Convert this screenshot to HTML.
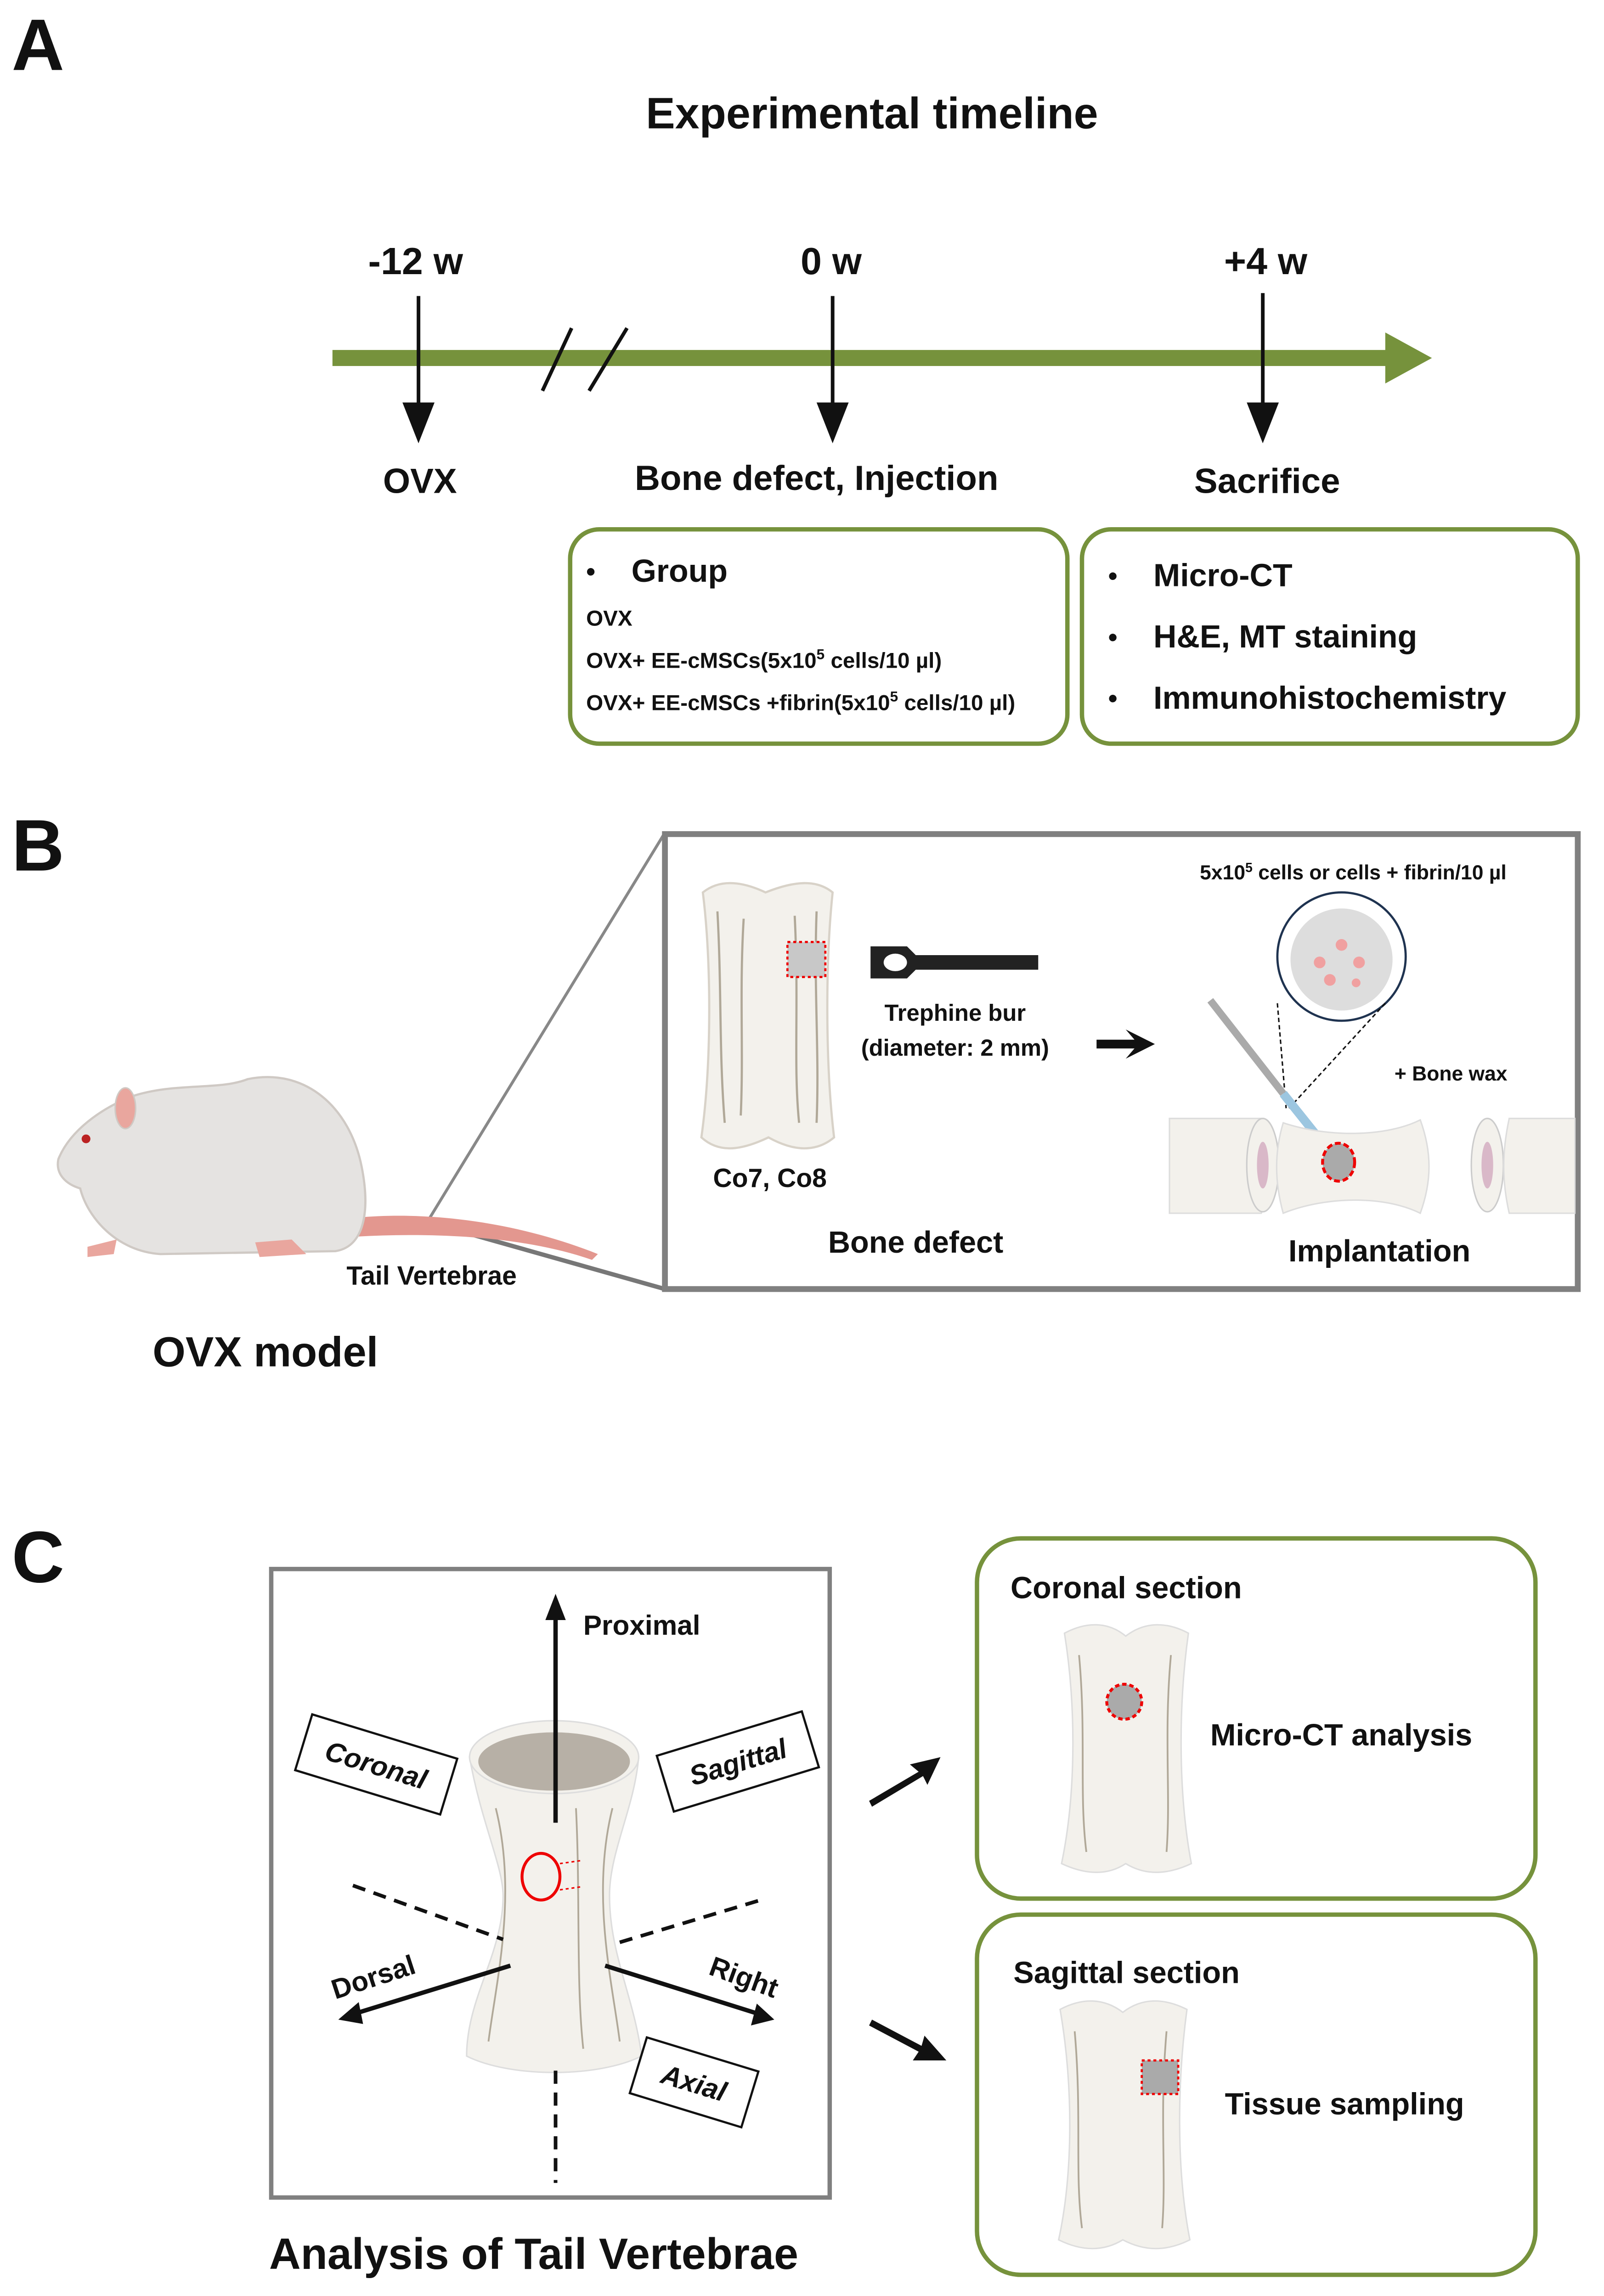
<!DOCTYPE html>
<html><head><meta charset="utf-8"><style>
html,body{margin:0;padding:0;background:#fff;width:3492px;height:5011px;overflow:hidden}
svg{display:block}
text{font-family:"Liberation Sans",Arial,sans-serif;font-weight:bold;fill:#111}
</style></head><body>
<svg width="3492" height="5011" viewBox="0 0 1100 1578" preserveAspectRatio="none" xmlns="http://www.w3.org/2000/svg">
<!-- A -->
<text x="8" y="48" font-size="50">A</text>
<text x="598" y="88" font-size="30" text-anchor="middle">Experimental timeline</text>
<rect x="228" y="240" width="725" height="11" fill="#76923c"/>
<polygon points="950,228 982,245.5 950,263" fill="#76923c"/>
<line x1="392" y1="225" x2="372" y2="268" stroke="#111" stroke-width="2.5"/>
<line x1="430" y1="225" x2="404" y2="268" stroke="#111" stroke-width="2.5"/>
<text x="285" y="188" font-size="26" text-anchor="middle">-12 w</text>
<text x="570" y="188" font-size="26" text-anchor="middle">0 w</text>
<text x="868" y="188" font-size="26" text-anchor="middle">+4 w</text>
<g fill="#111" stroke="#111" stroke-width="2.5">
<line x1="287" y1="203" x2="287" y2="278"/><polygon points="276,276 298,276 287,304" stroke="none"/>
<line x1="571" y1="203" x2="571" y2="278"/><polygon points="560,276 582,276 571,304" stroke="none"/>
<line x1="866" y1="201" x2="866" y2="278"/><polygon points="855,276 877,276 866,304" stroke="none"/>
</g>
<text x="288" y="338" font-size="24" text-anchor="middle">OVX</text>
<text x="560" y="336" font-size="24" text-anchor="middle">Bone defect, Injection</text>
<text x="869" y="338" font-size="24" text-anchor="middle">Sacrifice</text>
<rect x="391" y="363" width="341" height="147" rx="20" fill="none" stroke="#76923c" stroke-width="3"/>
<text x="402" y="398" font-size="18">•</text>
<text x="433" y="399" font-size="22">Group</text>
<text x="402" y="429" font-size="15">OVX</text>
<text x="402" y="458" font-size="15">OVX+ EE-cMSCs(5x10<tspan dy="-6" font-size="10">5</tspan><tspan dy="6"> cells/10 µl)</tspan></text>
<text x="402" y="487" font-size="15">OVX+ EE-cMSCs +fibrin(5x10<tspan dy="-6" font-size="10">5</tspan><tspan dy="6"> cells/10 µl)</tspan></text>
<rect x="742" y="363" width="340" height="147" rx="20" fill="none" stroke="#76923c" stroke-width="3"/>
<text x="760" y="401" font-size="18">•</text><text x="791" y="402" font-size="22">Micro-CT</text>
<text x="760" y="443" font-size="18">•</text><text x="791" y="444" font-size="22">H&amp;E, MT staining</text>
<text x="760" y="485" font-size="18">•</text><text x="791" y="486" font-size="22">Immunohistochemistry</text>

<!-- B -->
<text x="8" y="597" font-size="50">B</text>
<line x1="293" y1="838" x2="456" y2="571" stroke="#888" stroke-width="2"/>
<line x1="293" y1="838" x2="456" y2="884" stroke="#777" stroke-width="3"/>
<rect x="456" y="572" width="626" height="312" fill="none" stroke="#808080" stroke-width="4"/>
<path d="M245,835 C300,830 360,840 410,860 L406,864 C360,848 300,845 245,848 z" fill="#e3978f"/>
<path d="M40,795 C48,775 70,760 90,752 C120,742 150,748 170,740 C210,732 240,760 248,800 C254,830 250,855 230,858 L110,860 C80,858 60,835 55,815 C45,812 38,805 40,795 z" fill="#e5e3e1" stroke="#cfc9c4" stroke-width="1.5"/>
<ellipse cx="86" cy="760" rx="7" ry="14" fill="#e9a69e" stroke="#cfc9c4"/>
<circle cx="59" cy="781" r="3" fill="#b22"/>
<path d="M60,855 L80,850 L78,860 L60,862 z M175,852 L200,850 L210,860 L178,862 z" fill="#e9a69e"/>
<text x="296" y="881" font-size="18" text-anchor="middle">Tail Vertebrae</text>
<text x="182" y="937" font-size="29" text-anchor="middle">OVX model</text>
<path d="M482,612 C492,604 506,603 525,612 C545,604 560,603 571,612 C566,660 566,730 572,780 C560,790 545,790 527,780 C506,790 492,790 481,780 C488,730 488,660 482,612 z" fill="#f3f1ec" stroke="#d8d2c8" stroke-width="1.5"/>
<g stroke="#b0a898" stroke-width="1.5" fill="none">
<path d="M492,625 C495,680 493,720 497,770"/><path d="M510,630 C507,680 510,720 508,765"/><path d="M545,628 C548,690 544,730 548,770"/><path d="M560,625 C558,680 562,720 560,770"/>
</g>
<rect x="540" y="646" width="26" height="24" fill="#c8c8c8" stroke="#e00" stroke-width="1.5" stroke-dasharray="2,2"/>
<path d="M597,649 L622,649 L628,655 L712,655 L712,665 L628,665 L622,671 L597,671 z" fill="#222"/>
<ellipse cx="614" cy="660" rx="8" ry="6" fill="#fff"/>
<text x="655" y="700" font-size="16" text-anchor="middle">Trephine bur</text>
<text x="655" y="724" font-size="16" text-anchor="middle">(diameter: 2 mm)</text>
<path d="M752,713 L778,713 L772,706 L792,716 L772,726 L778,719 L752,719 z" fill="#111"/>
<text x="528" y="814" font-size="18" text-anchor="middle">Co7, Co8</text>
<text x="628" y="859" font-size="21" text-anchor="middle">Bone defect</text>
<text x="946" y="865" font-size="21" text-anchor="middle">Implantation</text>
<text x="928" y="603" font-size="14" text-anchor="middle">5x10<tspan dy="-5" font-size="9">5</tspan><tspan dy="5"> cells or cells + fibrin/10 µl</tspan></text>
<ellipse cx="920" cy="656" rx="44" ry="44" fill="#fff" stroke="#1f3350" stroke-width="1.5"/>
<ellipse cx="920" cy="658" rx="35" ry="35" fill="#ddd"/>
<g fill="#f0a0a0"><circle cx="905" cy="660" r="4"/><circle cx="920" cy="648" r="4"/><circle cx="932" cy="660" r="4"/><circle cx="912" cy="672" r="4"/><circle cx="930" cy="674" r="3"/></g>
<line x1="876" y1="688" x2="882" y2="760" stroke="#111" stroke-dasharray="3,2"/>
<line x1="950" y1="688" x2="884" y2="760" stroke="#111" stroke-dasharray="3,2"/>
<line x1="830" y1="686" x2="880" y2="750" stroke="#aaa" stroke-width="5"/>
<line x1="880" y1="750" x2="908" y2="785" stroke="#9cc6e0" stroke-width="6"/>
<line x1="908" y1="785" x2="915" y2="793" stroke="#3a8" stroke-width="3"/>
<text x="995" y="741" font-size="14" text-anchor="middle">+ Bone wax</text>
<path d="M802,767 L865,767 C870,790 870,810 865,832 L802,832 z" fill="#f3f1ec" stroke="#ddd"/>
<ellipse cx="866" cy="799" rx="11" ry="32" fill="#f3f1ec" stroke="#ccc"/><ellipse cx="866" cy="799" rx="4" ry="16" fill="#d9b8c8"/>
<path d="M880,770 C910,780 950,780 974,768 C982,790 982,810 974,832 C950,820 910,820 880,832 C874,810 874,790 880,770 z" fill="#f3f1ec" stroke="#ddd"/>
<ellipse cx="1020" cy="799" rx="11" ry="32" fill="#f3f1ec" stroke="#ccc"/><ellipse cx="1020" cy="799" rx="4" ry="16" fill="#d9b8c8"/>
<path d="M1035,767 L1080,767 L1080,832 L1035,832 C1030,810 1030,790 1035,767 z" fill="#f3f1ec" stroke="#ddd"/>
<ellipse cx="918" cy="797" rx="11" ry="13" fill="#aaa" stroke="#e00" stroke-width="2" stroke-dasharray="4,2"/>

<!-- C -->
<text x="8" y="1085" font-size="50">C</text>
<rect x="186" y="1076" width="383" height="431" fill="none" stroke="#808080" stroke-width="3"/>
<path d="M322,1205 C330,1250 345,1280 345,1300 C345,1340 320,1370 320,1410 C350,1425 410,1425 440,1410 C435,1370 418,1340 418,1300 C418,1270 435,1240 438,1205 z" fill="#f3f1ec" stroke="#ddd"/>
<g stroke="#b0a898" stroke-width="1.2" fill="none"><path d="M340,1240 C355,1300 340,1360 335,1400"/><path d="M420,1240 C405,1300 420,1360 425,1400"/><path d="M395,1240 C398,1300 395,1360 400,1405"/></g>
<ellipse cx="380" cy="1205" rx="58" ry="25" fill="#f3f1ec" stroke="#ddd"/>
<ellipse cx="380" cy="1208" rx="52" ry="20" fill="#b7b0a6"/>
<line x1="381" y1="1250" x2="381" y2="1110" stroke="#111" stroke-width="3"/>
<polygon points="374,1111 388,1111 381,1093" fill="#111"/>
<text x="400" y="1121" font-size="19">Proximal</text>
<ellipse cx="371" cy="1287" rx="13" ry="16" fill="none" stroke="#e00" stroke-width="2"/>
<line x1="384" y1="1278" x2="398" y2="1276" stroke="#e00" stroke-dasharray="2,2"/><line x1="384" y1="1296" x2="398" y2="1294" stroke="#e00" stroke-dasharray="2,2"/>
<g stroke="#111" stroke-width="2.5" stroke-dasharray="9,6">
<line x1="242" y1="1293" x2="345" y2="1330"/><line x1="425" y1="1332" x2="525" y2="1302"/><line x1="381" y1="1420" x2="381" y2="1497"/>
</g>
<line x1="350" y1="1348" x2="243" y2="1381" stroke="#111" stroke-width="3"/>
<polygon points="232,1385 246,1373 249,1388" fill="#111"/>
<line x1="415" y1="1348" x2="520" y2="1381" stroke="#111" stroke-width="3"/>
<polygon points="531,1385 515,1389 519,1374" fill="#111"/>
<g transform="translate(258,1210) rotate(17)"><rect x="-52" y="-20" width="104" height="40" fill="#fff" stroke="#111" stroke-width="1.5"/><text x="0" y="7" font-size="19" font-style="italic" text-anchor="middle">Coronal</text></g>
<g transform="translate(506,1208) rotate(-17)"><rect x="-52" y="-20" width="104" height="40" fill="#fff" stroke="#111" stroke-width="1.5"/><text x="0" y="7" font-size="19" font-style="italic" text-anchor="middle">Sagittal</text></g>
<g transform="translate(476,1428) rotate(17)"><rect x="-40" y="-20" width="80" height="40" fill="#fff" stroke="#111" stroke-width="1.5"/><text x="0" y="7" font-size="19" font-style="italic" text-anchor="middle">Axial</text></g>
<text transform="translate(258,1362) rotate(-18)" font-size="19" text-anchor="middle">Dorsal</text>
<text transform="translate(508,1362) rotate(20)" font-size="19" text-anchor="middle">Right</text>
<text x="366" y="1556" font-size="30" text-anchor="middle">Analysis of Tail Vertebrae</text>
<path d="M596,1235 L630,1215 L624,1210 L645,1205 L636,1224 L633,1218 L598,1239 z" fill="#111"/>
<path d="M598,1385 L632,1403 L634,1396 L649,1413 L626,1413 L630,1407 L596,1389 z" fill="#111"/>
<rect x="670" y="1055" width="383" height="247" rx="30" fill="none" stroke="#76923c" stroke-width="3"/>
<text x="693" y="1096" font-size="21">Coronal section</text>
<path d="M730,1120 C745,1112 760,1112 772,1122 C785,1112 800,1112 815,1120 C808,1170 808,1230 817,1278 C800,1286 785,1286 772,1278 C760,1286 745,1286 728,1278 C738,1230 738,1170 730,1120 z" fill="#f3f1ec" stroke="#ddd"/>
<g stroke="#b0a898" stroke-width="1.2" fill="none"><path d="M740,1135 C745,1190 740,1230 745,1270"/><path d="M803,1135 C798,1190 803,1230 800,1270"/></g>
<circle cx="771" cy="1167" r="12" fill="#aaa" stroke="#e00" stroke-width="2" stroke-dasharray="3,2"/>
<text x="830" y="1197" font-size="21">Micro-CT analysis</text>
<rect x="670" y="1313" width="383" height="247" rx="30" fill="none" stroke="#76923c" stroke-width="3"/>
<text x="695" y="1360" font-size="21">Sagittal section</text>
<path d="M727,1378 C742,1370 757,1370 770,1380 C783,1370 798,1370 814,1378 C807,1430 807,1490 816,1536 C800,1544 785,1544 770,1536 C757,1544 742,1544 726,1536 C736,1490 736,1430 727,1378 z" fill="#f3f1ec" stroke="#ddd"/>
<g stroke="#b0a898" stroke-width="1.2" fill="none"><path d="M737,1393 C742,1450 737,1490 742,1528"/><path d="M800,1393 C795,1450 800,1490 797,1528"/></g>
<rect x="783" y="1413" width="25" height="23" fill="#aaa" stroke="#e00" stroke-width="1.5" stroke-dasharray="2,2"/>
<text x="840" y="1450" font-size="21">Tissue sampling</text>
</svg>
</body></html>
